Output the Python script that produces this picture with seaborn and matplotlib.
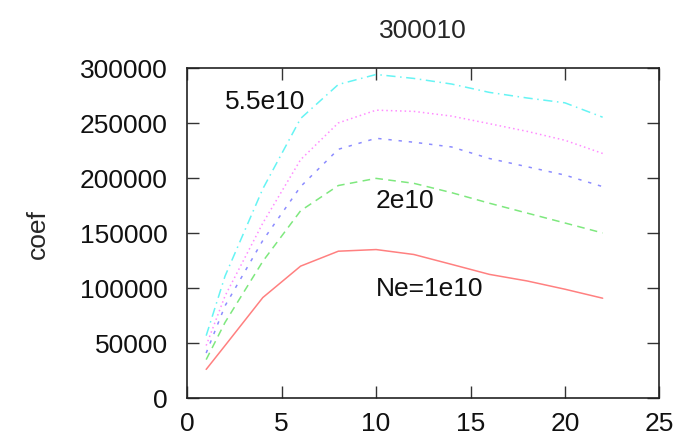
import numpy as np
import pandas as pd
import matplotlib
matplotlib.use('Agg')
import matplotlib.pyplot as plt
import seaborn as sns

## ============================================================= ##

xs = [1, 2, 4, 6, 8, 10, 12, 14, 16, 18, 20, 22]

coef_1e10 = [25600, 47300, 91000, 119600, 133200, 134700, 130200, 121200, 112100, 106100, 98600, 90400]
coef_2e10 = [34500, 68400, 124000, 170000, 193000, 199500, 195000, 186500, 176900, 167900, 158900, 149800]
coef_3e10 = [40500, 83500, 143000, 192000, 226000, 236000, 232400, 228100, 217600, 210100, 202500, 192000]
coef_4e10 = [47300, 92500, 158800, 216500, 250000, 261600, 260500, 256200, 249300, 242300, 234200, 222200]
coef_55e10 = [56300, 110600, 190000, 254000, 285000, 294100, 290500, 285400, 277800, 272700, 268300, 255200]

series_names = ['1e10', '2e10', '3e10', '4e10', '5.5e10']
series_values = [coef_1e10, coef_2e10, coef_3e10, coef_4e10, coef_55e10]

title = '300010'
ylabel = 'coef'
xticks = [0, 5, 10, 15, 20, 25]
yticks = [0, 50000, 100000, 150000, 200000, 250000, 300000]

# label text, x, y
labels = [('5.5e10', 2, 270000), ('2e10', 10, 180000), ('Ne=1e10', 10, 100000)]

## ============================================================= ##

df = pd.concat([pd.DataFrame({'x': xs, 'coef': v, 'Ne': n})
				for n, v in zip(series_names, series_values)], ignore_index=True)

palette = {'1e10': '#ff8080', '2e10': '#7ee87e', '3e10': '#8c8cff',
		   '4e10': '#ff8cff', '5.5e10': '#66f4f4'}
dashes = {'1e10': '', '2e10': (5, 3.5), '3e10': (2.2, 4.5),
		  '4e10': (1, 2), '5.5e10': (6, 3, 1, 3)}

sns.set_style('ticks')
plt.rcParams['font.family'] = ['Liberation Sans', 'DejaVu Sans']

fig = plt.figure(figsize=(6.82, 4.39), dpi=100)
ax = fig.add_axes([187.3 / 682, 1 - 398.5 / 439, (659.3 - 187.3) / 682, (398.5 - 69) / 439])

sns.lineplot(data=df, x='x', y='coef', hue='Ne', style='Ne', palette=palette,
			 dashes=dashes, lw=1.1, legend=False, ax=ax)

for s in ax.spines.values():
	s.set_visible(True)
	s.set_linewidth(1.2)
	s.set_color('#222222')

ax.set_xlim(0, 25)
ax.set_ylim(0, 300000)
ax.set_xticks(xticks)
ax.set_yticks(yticks)
ax.set_xticklabels([str(t) for t in xticks])
ax.set_yticklabels([str(t) for t in yticks])
ax.tick_params(direction='in', length=8.5, width=1.0, top=True, right=True,
			   labelsize=19, color='#333333', labelcolor='#111111')
ax.tick_params(axis='x', pad=10)
ax.tick_params(axis='y', pad=14)

ax.set_xlabel('')
ax.set_ylabel(ylabel, fontsize=19, labelpad=22)
ax.set_title(title, fontsize=19, pad=22)

for txt, lx, ly in labels:
	ax.text(lx, ly, txt, fontsize=19, ha='left', va='center', color='#111111')

fig.savefig('out.png', dpi=100)
